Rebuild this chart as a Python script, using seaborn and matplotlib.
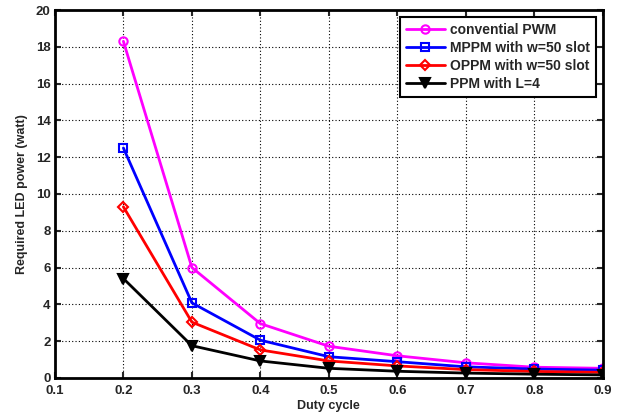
import matplotlib
matplotlib.use("Agg")
import matplotlib.pyplot as plt
import seaborn as sns
import pandas as pd

duty = [0.2, 0.3, 0.4, 0.5, 0.6, 0.7, 0.8, 0.9]
pwm = [18.3, 6.0, 2.95, 1.72, 1.2, 0.82, 0.58, 0.52]
mppm = [12.5, 4.08, 2.05, 1.15, 0.88, 0.6, 0.48, 0.42]
oppm = [9.3, 3.03, 1.52, 0.92, 0.65, 0.45, 0.35, 0.3]
ppm = [5.4, 1.75, 0.92, 0.52, 0.36, 0.26, 0.2, 0.16]

labels = ["convential PWM", "MPPM with w=50 slot", "OPPM with w=50 slot", "PPM with L=4"]
colors = ["#ff00ff", "#0000ff", "#ff0000", "#000000"]
markers = ["o", "s", "D", "v"]
facecolors = ["none", "none", "none", "#000000"]
sizes = [6, 6, 5, 7]

sns.set_style("white")
plt.rcParams["font.family"] = ["Liberation Sans", "DejaVu Sans"]
plt.rcParams["font.weight"] = "bold"

fig = plt.figure(figsize=(6.24, 4.18), dpi=100)
ax = fig.add_axes([0.088, 0.096, 0.878, 0.880])

for lab, vals, c, m, fc, ms in zip(labels, [pwm, mppm, oppm, ppm], colors, markers, facecolors, sizes):
    df = pd.DataFrame({"Duty cycle": duty, "power": vals})
    sns.lineplot(data=df, x="Duty cycle", y="power", ax=ax, color=c, marker=m,
                 markersize=ms, markerfacecolor=fc, markeredgecolor=c,
                 markeredgewidth=1.5, linewidth=2, label=lab)

ax.set_xlim(0.1, 0.9)
ax.set_ylim(0, 20)
ax.set_xticks([0.1, 0.2, 0.3, 0.4, 0.5, 0.6, 0.7, 0.8, 0.9])
ax.set_yticks(range(0, 21, 2))
ax.set_xticklabels(["0.1", "0.2", "0.3", "0.4", "0.5", "0.6", "0.7", "0.8", "0.9"])
ax.grid(True, color="black", linestyle=(0, (1, 2)), linewidth=0.8)
ax.tick_params(direction="in", length=4, width=1.5, labelsize=9.5, top=True, right=True,
               bottom=True, left=True)
ax.tick_params(axis="x", pad=5)
ax.tick_params(axis="y", pad=3)
for lbl in ax.get_xticklabels() + ax.get_yticklabels():
    lbl.set_fontweight("bold")
for s in ax.spines.values():
    s.set_linewidth(2)
    s.set_color("black")
ax.set_xlabel("Duty cycle", fontsize=9, fontweight="bold", labelpad=2)
ax.set_ylabel("Required LED power (watt)", fontsize=9, fontweight="bold", labelpad=6)

leg = ax.legend(loc="upper right", fontsize=10, frameon=True, fancybox=False,
                borderpad=0.4, labelspacing=0.3, handlelength=2.8, handletextpad=0.4,
                borderaxespad=0.5)
leg.get_frame().set_edgecolor("black")
leg.get_frame().set_linewidth(1.5)
leg.get_frame().set_alpha(1)
for t in leg.get_texts():
    t.set_fontweight("bold")

fig.savefig("out.png", dpi=100)
